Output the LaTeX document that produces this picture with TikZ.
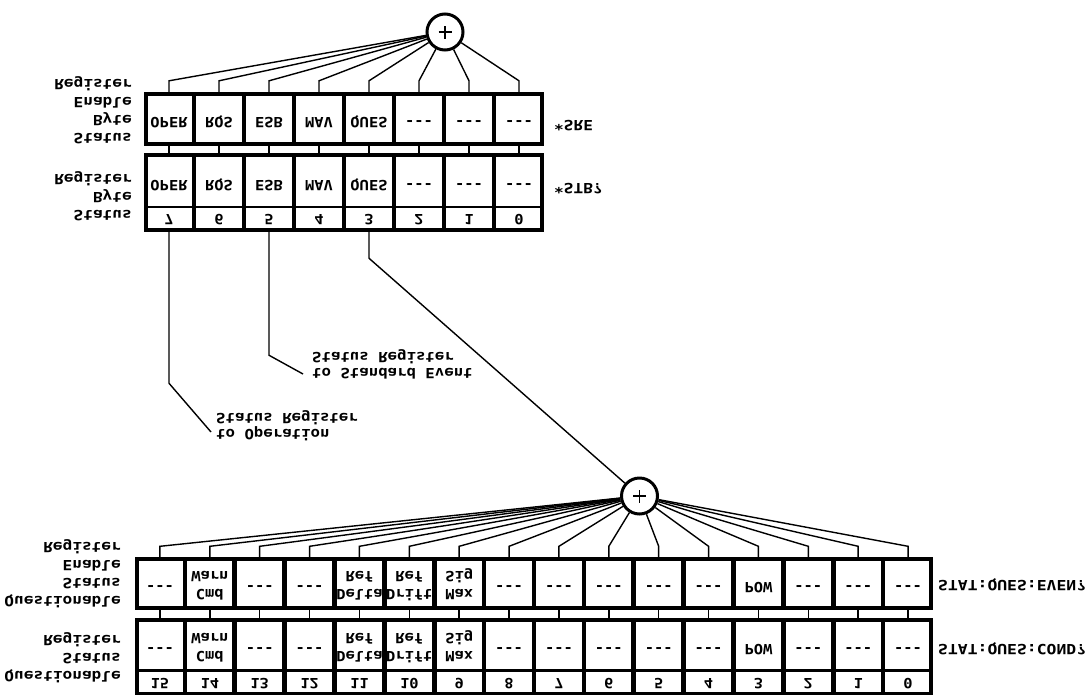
\documentclass[tikz,border=0pt]{standalone}
\usepackage{fontspec}
\newfontfamily\pix{DejaVu Sans Mono}
\newcommand\pixfont{\pix\bfseries\fontsize{14}{18}\selectfont}
\newcommand\pixtight{\pix\bfseries\fontsize{14}{15.5}\selectfont}
% #1 column alignment, #2 horizontal stretch, #3 text (printed upside down)
\newcommand\flipx[3]{\scalebox{#2}[-1]{\begin{tabular}{@{}#1@{}}#3\end{tabular}}}
\newcommand\flipc[1]{\flipx{c}{1.1}{#1}}
\newcommand\nada{-\kern0pt-\kern0pt-}
\begin{document}
\begin{tikzpicture}[x=1pt,y=-1pt,
  cell/.style={fill=white, inner sep=0pt},
  topcell/.style={cell, minimum width=45.4pt},
  lowcell/.style={cell, minimum width=45.3pt},
  celltxt/.style={inner sep=0pt, font=\pixfont},
  lbl/.style={inner sep=0pt, font=\pixfont},
  callout/.style={inner sep=0pt, font=\pixtight},
  wire/.style={line width=1.4pt},
  frame/.style={line width=4.2pt},
  orgate/.style={circle, draw, line width=3pt, minimum size=36pt, inner sep=0pt, fill=white}]
\useasboundingbox (0,0) rectangle (1090,694);

% ---------- top registers ----------
\fill (144,92) rectangle (544,146);
\fill (144,153) rectangle (544,232);
\foreach \t [count=\i from 0] in {OPER,RQS,ESB,MAV,QUES,\nada,\nada,\nada} {
  \pgfmathsetmacro\cx{169+50*\i}
  \pgfmathtruncatemacro\n{7-\i}
  \node[topcell, minimum height=46pt] (sre\i) at (\cx,119) {};
  \node[topcell, minimum height=48.7pt] (stb\i) at (\cx,181.3) {};
  \node[topcell, minimum height=19.7pt] (stbn\i) at (\cx,218.2) {};
  \node[celltxt] (sret\i) at ([yshift=-2.5pt]sre\i.center) {\flipc{\t}};
  \node[celltxt] (stbt\i) at ([yshift=-3pt]stb\i.center) {\flipc{\t}};
  \node[celltxt] (stbnt\i) at (stbn\i.center) {\flipc{\n}};
}
\draw[frame] (146.1,94.1) rectangle (541.9,143.9);
\draw[frame] (146.1,155.1) rectangle (541.9,229.9);

\node[orgate] (sor) at (445,32) {};
\draw[line width=1.3pt] ([xshift=-6.5pt]sor.center) -- ([xshift=6.5pt]sor.center);
\draw[line width=1.3pt] ([yshift=-6.5pt]sor.center) -- ([yshift=6.5pt]sor.center);

\foreach \i in {0,...,7} {
  \draw[wire] (sre\i.north) -- ++(0,-15) -- (sor);
  \draw[wire] (sre\i.south) -- (stb\i.north);
}

\node[lbl, anchor=east] (srelbl) at (132,110) {\flipx{r}{1.15}{Status\\Byte\\Enable\\Register}};
\node[lbl, anchor=east] (stblbl) at (132,196.5) {\flipx{r}{1.15}{Status\\Byte\\Register}};
\node[lbl, anchor=west] (srecmd) at (554,124.5) {\flipx{l}{1.15}{*SRE}};
\node[lbl, anchor=west] (stbcmd) at (554,187) {\flipx{l}{1.15}{*STB?}};

% ---------- callouts ----------
\node[callout, anchor=west] (opcall) at (216,425) {\flipx{l}{1.12}{to Operation\\Status Register}};
\node[callout, anchor=west] (secall) at (312,364) {\flipx{l}{1.12}{to Standard Event\\Status Register}};
\coordinate (opend) at (211,432);
\coordinate (seend) at (303,374);
\draw[wire] (stbn0.south) -- ++(0,155) -- (opend);
\draw[wire] (stbn2.south) -- ++(0,127) -- (seend);

% ---------- lower registers ----------
\node[orgate] (qor) at (639.5,496) {};
\draw[line width=1.3pt] ([xshift=-6.5pt]qor.center) -- ([xshift=6.5pt]qor.center);
\draw[line width=1.3pt] ([yshift=-6.5pt]qor.center) -- ([yshift=6.5pt]qor.center);
\draw[wire] (stbn4.south) -- ++(0,30) -- (qor);

\fill (135,557) rectangle (933,610);
\fill (135,617.5) rectangle (933,700);
\foreach \t/\s [count=\i from 0] in {\nada/2.5,{Cmd\\Warn}/1,\nada/2.5,\nada/2.5,{Delta\\Ref}/1,{Drift\\Ref}/1,{Max\\Sig}/1,\nada/2.5,\nada/2.5,\nada/2.5,\nada/2.5,\nada/2.5,POW/2.5,\nada/2.5,\nada/2.5,\nada/2.5} {
  \pgfmathsetmacro\cx{135+49.875*(\i+0.5)}
  \pgfmathtruncatemacro\n{15-\i}
  \node[lowcell, minimum height=45pt] (qe\i) at (\cx,583.5) {};
  \node[lowcell, minimum height=47.5pt] (qc\i) at (\cx,645.25) {};
  \node[lowcell, minimum height=20.5pt] (qn\i) at (\cx,681.75) {};
  \node[celltxt] (qet\i) at ([yshift=-\s pt]qe\i.center) {\flipc{\t}};
  \node[celltxt] (qct\i) at ([yshift=-\s pt]qc\i.center) {\flipc{\t}};
  \node[celltxt] (qnt\i) at (qn\i.center) {\flipc{\n}};
}
\draw[frame] (137.1,559.1) rectangle (930.9,607.9);
\draw[frame] (137.1,619.6) rectangle (930.9,693.9);

\foreach \i in {0,...,15} {
  \draw[wire] (qe\i.north) -- ++(0,-14.5) -- (qor);
  \draw[wire] (qe\i.south) -- (qc\i.north);
}

\node[lbl, anchor=east] (qelbl) at (121,573) {\flipx{r}{1.15}{Questionable\\Status\\Enable\\Register}};
\node[lbl, anchor=east] (qclbl) at (121,657.5) {\flipx{r}{1.15}{Questionable\\Status\\Register}};
\node[lbl, anchor=west] (qecmd) at (938,584.5) {\flipx{l}{1.17}{STAT:QUES:EVEN?}};
\node[lbl, anchor=west] (qccmd) at (938,648) {\flipx{l}{1.17}{STAT:QUES:COND?}};
\end{tikzpicture}
\end{document}
